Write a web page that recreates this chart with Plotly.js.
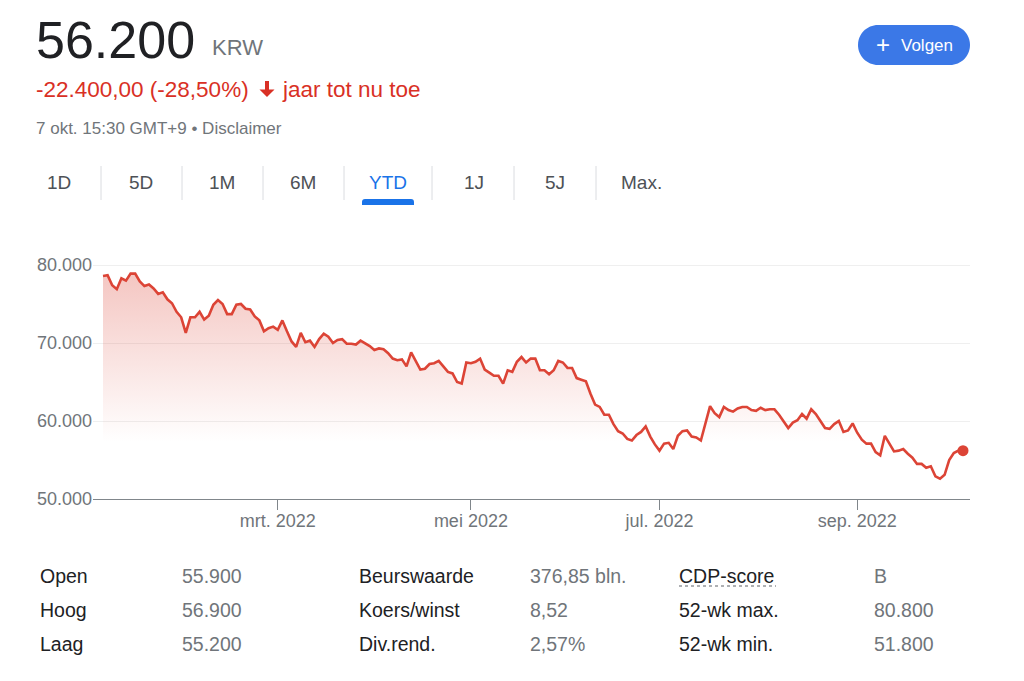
<!DOCTYPE html>
<html><head><meta charset="utf-8">
<script src="https://cdn.plot.ly/plotly-3.0.1.min.js"></script>
<style>html,body{margin:0;padding:0;background:#fff}#chart{width:1024px;height:681px}</style>
</head><body><div id="chart"></div>
<script>
// ---- data ----
const prices = [
  // jan
  78600,78700,77400,76900,78300,78000,78900,78900,77900,77300,77500,77000,76300,76500,75600,75100,74000,73300,71300,73300,
  // feb
  73300,74000,73000,73500,74900,75500,75000,73700,73700,74900,75000,74400,74300,73400,72900,71500,71900,72100,
  // mrt
  71700,72900,71500,70200,69500,71300,70100,70300,69500,70500,71200,70800,70000,70400,70500,69900,69900,69800,70300,70000,69600,
  // apr
  69100,69300,69200,68700,68000,67800,67900,67000,68800,67600,66600,66700,67300,67400,67700,67000,66300,66100,65000,64800,67500,
  // mei
  67400,67600,68000,66600,66200,65800,65800,64800,66500,66300,67600,68200,67500,68000,68000,66500,66500,66000,66500,67700,67500,
  // jun
  66800,66800,65500,65300,65100,63500,62100,61800,60800,60800,59600,58700,58400,57700,57500,58200,58600,59300,58000,57000,
  // jul
  56200,57100,57200,56400,58100,58700,58800,58000,57900,57500,59700,61900,61000,60500,61800,61400,61200,61600,61800,61800,61400,
  // aug
  61300,61700,61400,61500,61500,60800,59900,59100,59800,60100,60900,60300,61500,60900,60000,59100,59000,59600,60000,58600,58800,59700,
  // sep
  58500,57600,57100,57100,56000,55600,58100,57000,56100,56200,56400,55800,55300,54500,54500,54000,54200,52900,52600,53100,
  // okt
  55000,55900,56200,56200
];
const tickIndex = [38, 80, 121, 164];          // first trading day of mrt, mei, jul, sep
const tickLabels = ["mrt. 2022", "mei 2022", "jul. 2022", "sep. 2022"];
const yTicks = [50000, 60000, 70000, 80000];

const priceText = "56.200";
const currency = "KRW";
const changeText = "-22.400,00 (-28,50%)";
const periodText = "jaar tot nu toe";
const stampText = "7 okt. 15:30 GMT+9 • Disclaimer";
const buttonText = "Volgen";
const tabs = ["1D", "5D", "1M", "6M", "YTD", "1J", "5J", "Max."];
const activeTab = "YTD";
const statLabels1 = ["Open", "Hoog", "Laag"];
const statValues1 = ["55.900", "56.900", "55.200"];
const statLabels2 = ["Beurswaarde", "Koers/winst", "Div.rend."];
const statValues2 = ["376,85 bln.", "8,52", "2,57%"];
const statLabels3 = ["CDP-score", "52-wk max.", "52-wk min."];
const statValues3 = ["B", "80.800", "51.800"];

// ---- geometry / styles ----
const W = 1024, H = 681;
const L = 93, R = 970, T = 255, B = 499;
const FONT = "Liberation Sans, Arial, Helvetica, sans-serif";
const RED = "#d93025", LINE = "#dc4436", GRAY = "#70757a", DARK = "#202124", BLUE = "#1a73e8";
const px = x => (x - L) / (R - L);
const py = y => (B - y) / (B - T);
const P = (x, y) => px(x).toFixed(5) + "," + py(y).toFixed(5);

const xIdx = prices.map((_, i) => i);
const last = prices.length - 1;

const traces = [
  {
    x: xIdx, y: prices, type: "scatter", mode: "lines",
    line: {color: LINE, width: 2.6, shape: "linear"},
    fill: "tozeroy",
    fillgradient: {type: "vertical", start: 57300, stop: 80000,
      colorscale: [[0, "rgba(220,68,54,0)"], [1, "rgba(220,68,54,0.32)"]]},
    hoverinfo: "skip"
  },
  {
    x: [xIdx[last]], y: [prices[last]], type: "scatter", mode: "markers",
    marker: {color: LINE, size: 11}, hoverinfo: "skip"
  }
];

const annotations = [];
function ann(text, x, y, size, color, xanchor, extra) {
  annotations.push(Object.assign({
    text: text, xref: "paper", yref: "paper", x: px(x), y: py(y),
    xanchor: xanchor || "left", yanchor: "middle", showarrow: false,
    font: {family: FONT, size: size, color: color}
  }, extra || {}));
}
ann(priceText, 34, 40, 52, DARK);
ann(currency, 210, 48, 22, GRAY);
ann(changeText, 34, 89, 22.5, RED);
ann(periodText, 280, 89, 22.5, RED);
ann(stampText, 34, 128, 17, GRAY);
ann(buttonText, 899, 45, 17, "#ffffff");
ann("+", 883, 44, 24, "#ffffff", "center");

const tabX = [59, 141, 222, 303, 388, 474, 555, 641];
tabs.forEach((t, i) => ann(t, tabX[i], 183, 19, t === activeTab ? BLUE : "#4d5156", "center"));

const rowY = [576, 610, 644];
statLabels1.forEach((t, i) => ann(t, 38, rowY[i], 19.5, DARK));
statValues1.forEach((t, i) => ann(t, 180, rowY[i], 19.5, GRAY));
statLabels2.forEach((t, i) => ann(t, 357, rowY[i], 19.5, DARK));
statValues2.forEach((t, i) => ann(t, 528, rowY[i], 19.5, GRAY));
statLabels3.forEach((t, i) => ann(t, 677, rowY[i], 19.5, DARK));
statValues3.forEach((t, i) => ann(t, 872, rowY[i], 19.5, GRAY));

const shapes = [];
// tab separators
[101, 182, 263, 344, 432, 514, 596].forEach(x => shapes.push({
  type: "line", xref: "paper", yref: "paper", x0: px(x), x1: px(x), y0: py(166), y1: py(200),
  line: {color: "#dadce0", width: 1}
}));
// active tab underline
shapes.push({type: "path", xref: "paper", yref: "paper",
  path: "M" + P(362, 205) + " L" + P(362, 202) + " Q" + P(362, 199) + " " + P(365, 199) +
        " L" + P(411, 199) + " Q" + P(414, 199) + " " + P(414, 202) + " L" + P(414, 205) + " Z",
  fillcolor: BLUE, line: {width: 0}});
// Volgen pill button
(function () {
  const x0 = 858, x1 = 970, y0 = 25, y1 = 65, r = 20, k = 11.05;
  const p = "M" + P(x0 + r, y0) + " L" + P(x1 - r, y0) +
    " C" + P(x1 - r + k, y0) + " " + P(x1, y0 + r - k) + " " + P(x1, y0 + r) +
    " C" + P(x1, y0 + r + k) + " " + P(x1 - r + k, y1) + " " + P(x1 - r, y1) +
    " L" + P(x0 + r, y1) +
    " C" + P(x0 + r - k, y1) + " " + P(x0, y0 + r + k) + " " + P(x0, y0 + r) +
    " C" + P(x0, y0 + r - k) + " " + P(x0 + r - k, y0) + " " + P(x0 + r, y0) + " Z";
  shapes.push({type: "path", xref: "paper", yref: "paper", path: p, fillcolor: "#3b78e7", line: {width: 0}});
})();
// red down arrow
shapes.push({type: "path", xref: "paper", yref: "paper",
  path: "M" + P(265, 81) + " L" + P(269, 81) + " L" + P(269, 89.5) + " L" + P(274.5, 89.5) +
        " L" + P(267, 97) + " L" + P(259.5, 89.5) + " L" + P(265, 89.5) + " Z",
  fillcolor: RED, line: {width: 0}});
// dotted underline for CDP-score
shapes.push({type: "line", xref: "paper", yref: "paper", x0: px(679), x1: px(776), y0: py(586), y1: py(586),
  line: {color: "#5f6368", width: 1.2, dash: "dot"}});

const layout = {
  width: W, height: H,
  margin: {l: L, r: W - R, t: T, b: H - B, pad: 0},
  paper_bgcolor: "#ffffff", plot_bgcolor: "#ffffff",
  separators: ",.",
  showlegend: false,
  font: {family: FONT},
  xaxis: {
    range: [-10 / 4.599, last + 7 / 4.599], fixedrange: true,
    tickmode: "array", tickvals: tickIndex, ticktext: tickLabels,
    ticks: "outside", ticklen: 10, tickcolor: "#80868b", tickwidth: 1,
    ticklabelstandoff: -5,
    showline: true, linecolor: "#80868b", linewidth: 1,
    showgrid: false, zeroline: false,
    tickfont: {family: FONT, size: 18, color: GRAY}
  },
  yaxis: {
    range: [50000, 50000 + 244 / 78 * 10000], fixedrange: true,
    tickmode: "array", tickvals: yTicks, tickformat: ",.0f",
    ticks: "", showline: false, zeroline: false,
    showgrid: true, gridcolor: "#efefef", gridwidth: 1,
    tickfont: {family: FONT, size: 18, color: GRAY}
  },
  annotations: annotations,
  shapes: shapes
};

Plotly.newPlot("chart", traces, layout, {staticPlot: true, displayModeBar: false});
</script>
</body></html>
